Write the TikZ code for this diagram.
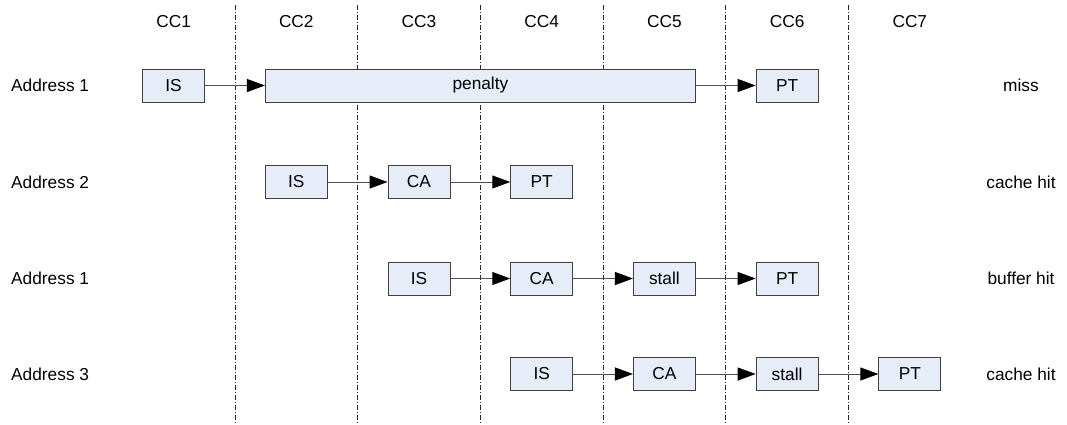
\documentclass[tikz,border=0pt]{standalone}
\usepackage{fontspec}
\setmainfont{Liberation Sans}
\usetikzlibrary{arrows.meta}
\definecolor{boxfill}{HTML}{E6EDF8}
\definecolor{boxline}{HTML}{404040}
\definecolor{linegray}{HTML}{505050}
\begin{document}
\begin{tikzpicture}[x=1pt,y=-1pt,
  every node/.style={font=\fontsize{17.3}{20}\selectfont},
  stage/.style={draw=boxline, fill=boxfill, line width=0.9pt,
    minimum width=62pt, minimum height=33pt, inner sep=0pt},
  flow/.style={draw=linegray, line width=1pt,
    -{Triangle[length=18pt,width=13pt,color=black]}},
  clockline/.style={draw=black!85, line width=0.7pt,
    dash pattern=on 5pt off 2pt on 1pt off 2pt},
  addr/.style={anchor=west, inner sep=0pt},
  result/.style={anchor=center}
]
\useasboundingbox (0,0) rectangle (1067,424);

% clock cycle boundaries
\foreach \k in {0,...,5}
  \draw[clockline] (235+122.7*\k,5) -- (235+122.7*\k,424);

% clock cycle headings
\foreach \k in {1,...,7}
  \node (cc\k) at (173.6+122.7*\k-122.7,22) {CC\k};

% row labels
\node[addr] (a1) at (11,85.5) {Address 1};
\node[addr] (a2) at (11,182) {Address 2};
\node[addr] (a3) at (11,278.5) {Address 1};
\node[addr] (a4) at (11,374) {Address 3};

\node[result] (res1) at (1021,85.5) {miss};
\node[result] (res2) at (1021,182) {cache hit};
\node[result] (res3) at (1021,278.5) {buffer hit};
\node[result] (res4) at (1021,374) {cache hit};

% row 1: miss
\node[stage] (r1is) at (173.6,85.5) {IS};
\node[stage, minimum width=430pt] (r1pen) at (480.4,85.5) {penalty};
\node[stage] (r1pt) at (787.1,85.5) {PT};
\draw[flow] (r1is) -- (r1pen);
\draw[flow] (r1pen) -- (r1pt);

% row 2: cache hit
\node[stage] (r2is) at (296.3,182) {IS};
\node[stage] (r2ca) at (419,182) {CA};
\node[stage] (r2pt) at (541.7,182) {PT};
\draw[flow] (r2is) -- (r2ca);
\draw[flow] (r2ca) -- (r2pt);

% row 3: buffer hit
\node[stage] (r3is) at (419,278.5) {IS};
\node[stage] (r3ca) at (541.7,278.5) {CA};
\node[stage] (r3st) at (664.4,278.5) {stall};
\node[stage] (r3pt) at (787.1,278.5) {PT};
\draw[flow] (r3is) -- (r3ca);
\draw[flow] (r3ca) -- (r3st);
\draw[flow] (r3st) -- (r3pt);

% row 4: cache hit
\node[stage] (r4is) at (541.7,374) {IS};
\node[stage] (r4ca) at (664.4,374) {CA};
\node[stage] (r4st) at (787.1,374) {stall};
\node[stage] (r4pt) at (909.8,374) {PT};
\draw[flow] (r4is) -- (r4ca);
\draw[flow] (r4ca) -- (r4st);
\draw[flow] (r4st) -- (r4pt);
\end{tikzpicture}
\end{document}
